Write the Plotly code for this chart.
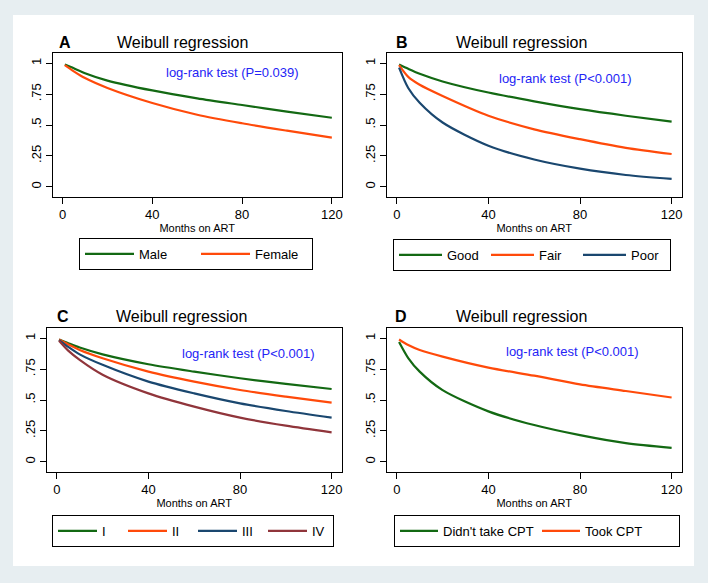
import plotly.graph_objects as go

W, H = 708, 583

months = [1, 5, 10, 20, 40, 60, 80, 100, 120]

# Panel A
male = [0.99, 0.96, 0.92, 0.86, 0.78, 0.716, 0.662, 0.609, 0.559]
female = [0.985, 0.935, 0.88, 0.80, 0.678, 0.583, 0.514, 0.454, 0.397]
# Panel B
good = [0.99, 0.955, 0.915, 0.853, 0.763, 0.692, 0.628, 0.575, 0.528]
fair = [0.985, 0.89, 0.826, 0.735, 0.575, 0.465, 0.385, 0.315, 0.265]
poor = [0.965, 0.80, 0.68, 0.52, 0.332, 0.22, 0.146, 0.095, 0.063]
# Panel C
stage1 = [0.99, 0.96, 0.925, 0.87, 0.79, 0.73, 0.676, 0.63, 0.589]
stage2 = [0.99, 0.95, 0.905, 0.838, 0.73, 0.649, 0.581, 0.527, 0.478]
stage3 = [0.985, 0.93, 0.87, 0.785, 0.649, 0.554, 0.473, 0.411, 0.357]
stage4 = [0.98, 0.90, 0.825, 0.705, 0.554, 0.446, 0.357, 0.292, 0.238]
# Panel D
no_cpt = [0.97, 0.84, 0.73, 0.58, 0.408, 0.297, 0.215, 0.15, 0.112]
took_cpt = [0.99, 0.945, 0.905, 0.851, 0.762, 0.697, 0.627, 0.573, 0.52]

xtick_vals = [0, 40, 80, 120]
ytick_vals = [0, 0.25, 0.5, 0.75, 1]
ytick_text = ["0", ".25", ".5", ".75", "1"]

panel_letters = ["A", "B", "C", "D"]
panel_title = "Weibull regression"
logrank = ["log-rank test (P=0.039)", "log-rank test (P<0.001)",
           "log-rank test (P<0.001)", "log-rank test (P<0.001)"]

GREEN = "#136913"
ORANGE = "#ff4a0a"
NAVY = "#1a476f"
MAROON = "#90353b"
TXTBLUE = "#2424f5"
FONT = "Liberation Sans, Arial, sans-serif"

panels = [
    [("Male", male, GREEN), ("Female", female, ORANGE)],
    [("Good", good, GREEN), ("Fair", fair, ORANGE), ("Poor", poor, NAVY)],
    [("I", stage1, GREEN), ("II", stage2, ORANGE), ("III", stage3, NAVY), ("IV", stage4, MAROON)],
    [("Didn't take CPT", no_cpt, GREEN), ("Took CPT", took_cpt, ORANGE)],
]

# plot boxes in pixels: (left, right, top, bottom)
boxes = [(52.7, 341.7, 53.3, 196.7), (386.7, 681.7, 53.3, 196.7),
         (46.7, 341.7, 328.3, 471.7), (386.7, 681.7, 328.3, 471.7)]
# legend boxes (left, top, itemwidth, entrywidth)
legend_pos = [(79, 238, 49, 52), (393, 239, 43, 34), (52, 515, 39, 16), (394, 515, 38, 89)]
title_pos = [(182, 42), (521, 42), (181, 316), (521, 316)]
letter_pos = [(57, 42), (394, 42), (55, 316), (393, 316)]
logrank_pos = [(75.7, 0.925), (73.5, 0.873), (83.5, 0.873), (76.7, 0.892)]

def px(x):
    return x / W

def py(y):
    return 1 - y / H

fig = go.Figure()
layout = dict(
    width=W, height=H, autosize=False,
    margin=dict(l=0, r=0, t=0, b=0),
    paper_bgcolor="#e7eef1", plot_bgcolor="white",
    font=dict(family=FONT, color="black", size=13),
    showlegend=True,
)
annotations = []
shapes = [dict(type="rect", xref="paper", yref="paper",
               x0=px(13), x1=px(694), y0=py(566), y1=py(15),
               fillcolor="white", line=dict(width=0), layer="below")]

for i, series in enumerate(panels):
    n = i + 1
    xa = "x" if n == 1 else f"x{n}"
    ya = "y" if n == 1 else f"y{n}"
    lg = "legend" if n == 1 else f"legend{n}"
    for name, vals, col in series:
        fig.add_trace(go.Scatter(
            x=months, y=vals, name=name, mode="lines",
            line=dict(color=col, width=2.2, shape="spline", smoothing=0.8),
            xaxis=xa, yaxis=ya, legend=lg, hoverinfo="skip"))
    l, r, t, b = boxes[i]
    layout["xaxis" if n == 1 else f"xaxis{n}"] = dict(
        domain=[px(l), px(r)], anchor=ya, range=[-4.4, 124.4],
        tickvals=xtick_vals, ticks="outside", ticklen=6, tickcolor="black",
        showline=True, mirror=True, linecolor="black", linewidth=1,
        showgrid=False, zeroline=False,
        tickfont=dict(size=13, family=FONT),
        title=dict(text="Months on ART", font=dict(size=11, family=FONT), standoff=3),
    )
    layout["yaxis" if n == 1 else f"yaxis{n}"] = dict(
        domain=[py(b), py(t)], anchor=xa, range=[-0.081, 1.081],
        tickvals=ytick_vals, ticktext=ytick_text, tickangle=-90,
        ticks="outside", ticklen=6, tickcolor="black",
        showline=True, mirror=True, linecolor="black", linewidth=1,
        showgrid=False, zeroline=False,
        tickfont=dict(size=13, family=FONT),
    )
    lx, ly, iw, ew = legend_pos[i]
    layout[lg] = dict(
        x=px(lx), y=py(ly), xanchor="left", yanchor="top",
        orientation="h", bgcolor="white", bordercolor="black", borderwidth=1,
        font=dict(size=13, family=FONT), itemwidth=iw,
        entrywidth=ew, entrywidthmode="pixels",
    )
    tx, ty = title_pos[i]
    annotations.append(dict(text=panel_title, xref="paper", yref="paper",
                            x=px(tx), y=py(ty), xanchor="center", yanchor="middle",
                            showarrow=False, font=dict(size=16, family=FONT)))
    lx2, ly2 = letter_pos[i]
    annotations.append(dict(text="<b>" + panel_letters[i] + "</b>", xref="paper", yref="paper",
                            x=px(lx2), y=py(ly2), xanchor="left", yanchor="middle",
                            showarrow=False, font=dict(size=16, family=FONT)))
    ax_, ay_ = logrank_pos[i]
    annotations.append(dict(text=logrank[i], xref=xa, yref=ya, x=ax_, y=ay_,
                            xanchor="center", yanchor="middle", showarrow=False,
                            font=dict(size=13, family=FONT, color=TXTBLUE)))

layout["annotations"] = annotations
layout["shapes"] = shapes
fig.update_layout(**layout)
fig.write_html("out.html", config={"displayModeBar": False},
               post_script="document.body.style.margin='0';")
